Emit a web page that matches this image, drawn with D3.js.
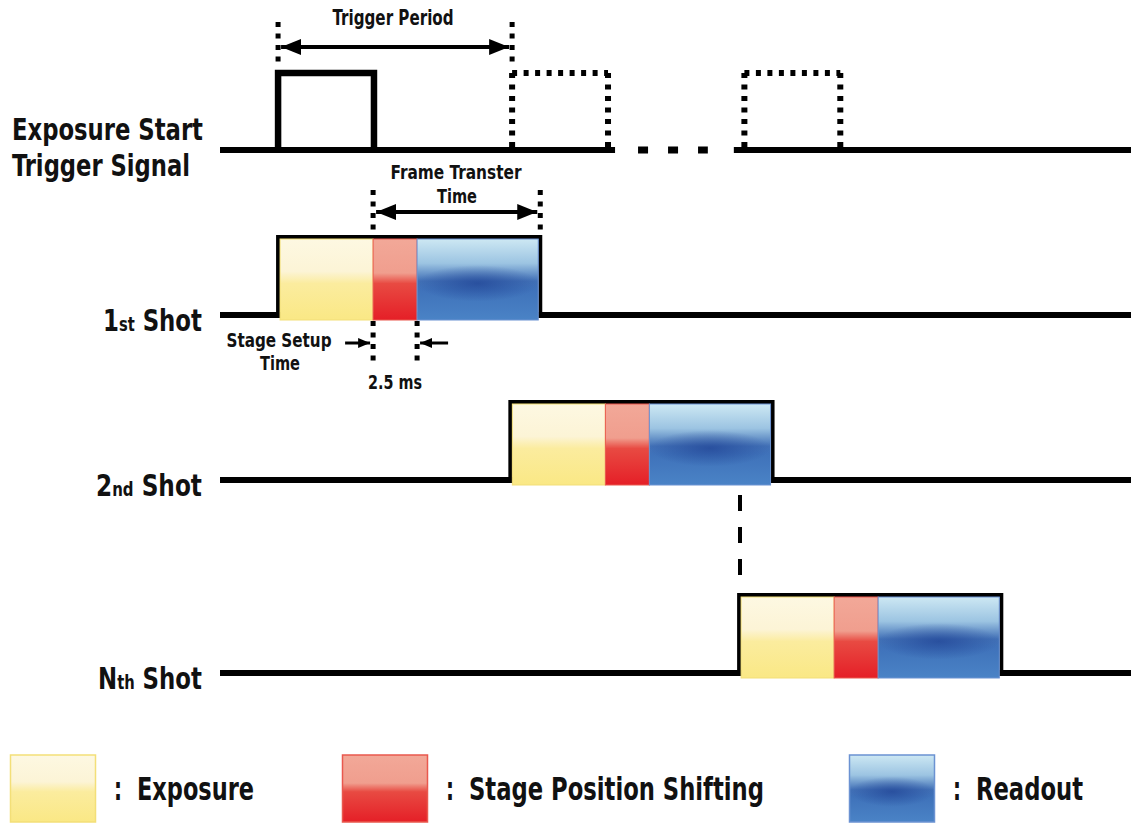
<!DOCTYPE html>
<html>
<head>
<meta charset="utf-8">
<title>Exposure timing</title>
<script src="https://cdn.jsdelivr.net/npm/d3@7"></script>
<style>
  body { margin: 0; background: #fff; }
  svg text { font-family: "Liberation Sans Narrow", "DejaVu Sans Condensed", "Arial Narrow", "Liberation Sans", sans-serif; fill: #111; }
</style>
</head>
<body>
<svg id="chart"></svg>
<script>
// time values in ms (2.5 ms stage shift as reference)
var phaseNames = ["Exposure", "Stage Position Shifting", "Readout"];
var phaseDur = [5.4, 2.5, 7.0];
var phaseKeys = ["yel", "red", "blu"];

var shotMain = ["1", "2", "N"];
var shotSuffix = ["st", "nd", "th"];
var shotStart = [0, 13.2, 26.2];

var triggerStart = [0, 13.3, 26.5];
var triggerSolid = [true, false, false];
var triggerWidth = 5.45;
var triggerGap = [19.15, 25.9];   // "..." break in the trigger line
var triggerPeriod = 13.3;

var W = 1131, H = 825;
var svg = d3.select("#chart").attr("width", W).attr("height", H);

var x = d3.scaleLinear().domain([-3.3, 48.47]).range([220, W]);

// layout
var trigBase = 150, trigTop = 73;
var shotBase = [315, 480, 673];
var boxH = 78;

// gradients
var defs = svg.append("defs");
function lin(id, stops) {
  var g = defs.append("linearGradient").attr("id", id)
    .attr("x1", 0).attr("y1", 0).attr("x2", 0).attr("y2", 1);
  stops.forEach(function (s) {
    g.append("stop").attr("offset", s[0]).attr("stop-color", s[1]);
  });
}
lin("yel", [[0, "#fdf8e2"], [0.4, "#fcf4d6"], [0.55, "#fbec9e"], [1, "#fae885"]]);
lin("red", [[0, "#f2a898"], [0.42, "#f09e8e"], [0.55, "#e84a42"], [1, "#e51f27"]]);
lin("blu", [[0, "#cde8f3"], [0.3, "#9cc4e2"], [0.52, "#4170b6"], [0.62, "#3f72ba"], [1, "#4a83c6"]]);
var rg = defs.append("radialGradient").attr("id", "bluShade")
  .attr("cx", 0.5).attr("cy", 0.55).attr("r", 0.5)
  .attr("gradientTransform", "translate(0,0.3) scale(1,0.45)");
rg.append("stop").attr("offset", 0).attr("stop-color", "#1d3f92").attr("stop-opacity", 0.65);
rg.append("stop").attr("offset", 1).attr("stop-color", "#1d3f92").attr("stop-opacity", 0);
var borderCol = { yel: "#f3df78", red: "#e9584e", blu: "#6b92d2" };

// arrow heads
function marker(id, dir, w, h) {
  defs.append("marker").attr("id", id)
    .attr("viewBox", "0 0 " + w + " " + h).attr("refX", dir > 0 ? w : 0).attr("refY", h / 2)
    .attr("markerUnits", "userSpaceOnUse").attr("markerWidth", w).attr("markerHeight", h)
    .attr("orient", "0")
    .append("path")
    .attr("d", dir > 0 ? "M0,0L" + w + "," + h / 2 + "L0," + h + "Z" : "M" + w + ",0L0," + h / 2 + "L" + w + "," + h + "Z")
    .attr("fill", "#000");
}
marker("headR", 1, 20, 16);
marker("headL", -1, 20, 16);
marker("sR", 1, 12, 10);
marker("sL", -1, 12, 10);

function dotted(sel, x1, y1, x2, y2, w) {
  return sel.append("line").attr("x1", x1).attr("y1", y1).attr("x2", x2).attr("y2", y2)
    .attr("stroke", "#000").attr("stroke-width", w || 5).attr("stroke-dasharray", "5,6.5");
}
function label(sel, xx, yy, size, len, txt, anchor) {
  return sel.append("text").attr("x", xx).attr("y", yy).attr("text-anchor", anchor || "start")
    .attr("font-size", size).attr("font-weight", "bold")
    .attr("textLength", len).attr("lengthAdjust", "spacingAndGlyphs").text(txt);
}

// ---------- trigger row ----------
var trig = svg.append("g");
trig.append("line").attr("x1", 220).attr("x2", x(triggerGap[0]))
  .attr("y1", trigBase).attr("y2", trigBase).attr("stroke", "#000").attr("stroke-width", 6);
trig.append("line").attr("x1", x(triggerGap[1])).attr("x2", W)
  .attr("y1", trigBase).attr("y2", trigBase).attr("stroke", "#000").attr("stroke-width", 6);
trig.append("line").attr("x1", x(triggerGap[0]) + 23).attr("x2", x(triggerGap[1]) - 26)
  .attr("y1", trigBase).attr("y2", trigBase).attr("stroke", "#000").attr("stroke-width", 7)
  .attr("stroke-dasharray", "10,20");

triggerStart.forEach(function (t, i) {
  var x0 = x(t), x1 = x(t + triggerWidth);
  if (triggerSolid[i]) {
    trig.append("path")
      .attr("d", "M" + x0 + "," + (trigBase + 3) + "V" + trigTop + "H" + x1 + "V" + (trigBase + 3))
      .attr("fill", "none").attr("stroke", "#000").attr("stroke-width", 6.5)
      .attr("stroke-linejoin", "miter");
  } else {
    dotted(trig, x0, trigTop, x1, trigTop, 6);
    dotted(trig, x0, trigTop, x0, trigBase, 6);
    dotted(trig, x1, trigTop, x1, trigBase, 6);
  }
});

// trigger period annotation
dotted(trig, x(0), 22, x(0), 68, 5);
dotted(trig, x(triggerPeriod), 22, x(triggerPeriod), 68, 5);
trig.append("line").attr("x1", x(0) + 3).attr("x2", x(triggerPeriod) - 3)
  .attr("y1", 47).attr("y2", 47).attr("stroke", "#000").attr("stroke-width", 4)
  .attr("marker-start", "url(#headL)").attr("marker-end", "url(#headR)");
label(trig, (x(0) + x(triggerPeriod)) / 2 - 2, 25, 21, 121, "Trigger Period", "middle");

// row label
label(svg, 12, 140, 31, 191, "Exposure Start");
label(svg, 12, 176, 31, 178, "Trigger Signal");

// ---------- shot rows ----------
var labelW = [99, 106, 104];
shotStart.forEach(function (s, i) {
  var base = shotBase[i], top = base - boxH;
  var g = svg.append("g");
  g.append("line").attr("x1", 220).attr("x2", W).attr("y1", base).attr("y2", base)
    .attr("stroke", "#000").attr("stroke-width", 6);
  var total = d3.sum(phaseDur);
  var x0 = x(s), x1 = x(s + total);
  g.append("path").attr("d", "M" + x0 + "," + base + "V" + top + "H" + x1 + "V" + base)
    .attr("fill", "none").attr("stroke", "#000").attr("stroke-width", 4);
  var t = s;
  phaseDur.forEach(function (d, k) {
    var a = x(t) + (k === 0 ? 2 : 0), b = x(t + d) - (k === phaseDur.length - 1 ? 2 : 0);
    g.append("rect").attr("x", a).attr("y", top + 2).attr("width", b - a).attr("height", base + 5 - top - 2)
      .attr("fill", "url(#" + phaseKeys[k] + ")").attr("stroke", borderCol[phaseKeys[k]]).attr("stroke-width", 1);
    if (phaseKeys[k] === "blu") {
      g.append("rect").attr("x", a).attr("y", top + 2).attr("width", b - a).attr("height", base + 5 - top - 2)
        .attr("fill", "url(#bluShade)");
    }
    t += d;
  });
  // "1st Shot": one text, condensed with a horizontal scale so its right edge sits at 202
  var lbl = g.append("text").attr("x", 0).attr("y", 0)
    .attr("font-size", 31).attr("font-weight", "bold");
  lbl.append("tspan").text(shotMain[i]);
  lbl.append("tspan").attr("font-size", 20).text(shotSuffix[i]);
  lbl.append("tspan").text(" Shot");
  var nat = lbl.node().getComputedTextLength();
  var sc = labelW[i] / nat;
  lbl.attr("transform", "translate(" + (202 - labelW[i]) + "," + (base + 16) + ") scale(" + sc + ",1)");
});

// frame transfer annotation (1st shot)
var ftA = x(shotStart[0] + phaseDur[0]);
var ftB = x(shotStart[0] + d3.sum(phaseDur));
dotted(svg, ftA, 190, ftA, 230, 5);
dotted(svg, ftB, 190, ftB, 230, 5);
svg.append("line").attr("x1", ftA + 3).attr("x2", ftB - 3).attr("y1", 212).attr("y2", 212)
  .attr("stroke", "#000").attr("stroke-width", 4)
  .attr("marker-start", "url(#headL)").attr("marker-end", "url(#headR)");
label(svg, 456, 179, 20, 131, "Frame Transter", "middle");
label(svg, 457, 203, 20, 40, "Time", "middle");

// stage setup / 2.5 ms annotation
var ssA = ftA, ssB = x(shotStart[0] + phaseDur[0] + phaseDur[1]);
var b1 = shotBase[0];
dotted(svg, ssA, b1 + 6, ssA, b1 + 46, 5);
dotted(svg, ssB, b1 + 6, ssB, b1 + 46, 5);
svg.append("line").attr("x1", ssA - 28).attr("x2", ssA - 3).attr("y1", b1 + 28).attr("y2", b1 + 28)
  .attr("stroke", "#000").attr("stroke-width", 3).attr("marker-end", "url(#sR)");
svg.append("line").attr("x1", ssB + 31).attr("x2", ssB + 3).attr("y1", b1 + 28).attr("y2", b1 + 28)
  .attr("stroke", "#000").attr("stroke-width", 3).attr("marker-end", "url(#sL)");
label(svg, 279, b1 + 32, 20, 105, "Stage Setup", "middle");
label(svg, 280, b1 + 55, 20, 40, "Time", "middle");
label(svg, 395, b1 + 74, 20, 54, phaseDur[1] + " ms", "middle");

// dashed link between 2nd and Nth rows
svg.append("line").attr("x1", 740).attr("x2", 740).attr("y1", shotBase[1] + 15).attr("y2", shotBase[2] - boxH - 18)
  .attr("stroke", "#000").attr("stroke-width", 4).attr("stroke-dasharray", "16,16");

// ---------- legend ----------
var legX = [10, 342, 849];
var legTextW = [117, 295, 107];
var legend = svg.append("g");
phaseNames.forEach(function (n, k) {
  var key = phaseKeys[k];
  legend.append("rect").attr("x", legX[k] + 0.5).attr("y", 755).attr("width", 85).attr("height", 67)
    .attr("fill", "url(#" + key + ")").attr("stroke", borderCol[key]).attr("stroke-width", 1.5);
  if (key === "blu") {
    legend.append("rect").attr("x", legX[k] + 0.5).attr("y", 755).attr("width", 85).attr("height", 67)
      .attr("fill", "url(#bluShade)");
  }
  label(legend, legX[k] + 104, 800, 32, 8, ":");
  label(legend, legX[k] + 127, 800, 32, legTextW[k], n);
});
</script>
</body>
</html>
